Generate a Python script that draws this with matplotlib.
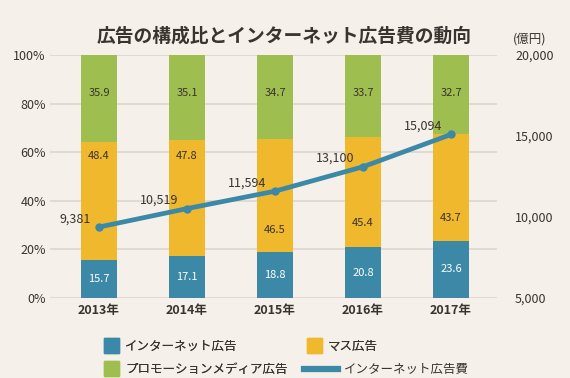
import matplotlib
matplotlib.use("Agg")
import matplotlib.pyplot as plt
import matplotlib.patches as mpatches
from matplotlib.lines import Line2D
from matplotlib.legend_handler import HandlerPatch
import numpy as np

plt.rcParams['font.family'] = ['Noto Sans CJK JP', 'DejaVu Sans']

# data
years = ["2013年", "2014年", "2015年", "2016年", "2017年"]
internet_share = [15.7, 17.1, 18.8, 20.8, 23.6]
mass_share = [48.4, 47.8, 46.5, 45.4, 43.7]
promo_share = [35.9, 35.1, 34.7, 33.7, 32.7]
internet_spend = [9381, 10519, 11594, 13100, 15094]  # 億円

# where the designer put the mass-media labels (percent height)
mass_label_y = [58.5, 58.5, 28.0, 31.0, 33.0]

BG = "#f5f0ea"
BLUE = "#3b88a7"
YELLOW = "#f0b82d"
GREEN = "#9fbe50"
TXT = "#3a3330"
GRID = "#dcd6cf"


def square_patch(legend, orig_handle, xdescent, ydescent, width, height, fontsize):
    s = width
    return mpatches.Rectangle((-xdescent, -ydescent + (height - s) / 2), s, s)


fig = plt.figure(figsize=(5.70, 3.78), dpi=100, facecolor=BG)
ax = fig.add_axes([50 / 570, 1 - 298 / 378, 447 / 570, 243 / 378])
ax.set_facecolor(BG)

x = np.arange(len(years))
w = 0.4
ax.bar(x, internet_share, w, color=BLUE, zorder=2)
ax.bar(x, mass_share, w, bottom=internet_share, color=YELLOW, zorder=2)
bottom2 = np.array(internet_share) + np.array(mass_share)
ax.bar(x, promo_share, w, bottom=bottom2, color=GREEN, zorder=2)

# bar labels
for i in range(len(years)):
    ax.text(x[i], internet_share[i] / 2, f"{internet_share[i]:.1f}", color="white",
            ha="center", va="center", fontsize=8, zorder=3)
    ax.text(x[i], mass_label_y[i], f"{mass_share[i]:.1f}", color=TXT,
            ha="center", va="center", fontsize=8, zorder=3)
    ax.text(x[i], 84.5, f"{promo_share[i]:.1f}", color=TXT,
            ha="center", va="center", fontsize=8, zorder=3)

ax.set_xlim(-0.557, 4.523)
ax.set_ylim(0, 100)
ax.set_yticks([0, 20, 40, 60, 80, 100])
ax.set_yticklabels([f"{v}%" for v in range(0, 101, 20)])
ax.set_xticks(x)
ax.set_xticklabels(years, fontweight="bold")
ax.tick_params(axis="both", length=0, colors=TXT, labelsize=9)
ax.tick_params(axis="x", pad=4)
ax.tick_params(axis="y", pad=3)
ax.grid(axis="y", color=GRID, linewidth=1.2, zorder=0)
for s in ax.spines.values():
    s.set_visible(False)

# right axis: internet ad spend
ax2 = ax.twinx()
ax2.set_ylim(5000, 20000)
ax2.set_yticks([5000, 10000, 15000, 20000])
ax2.set_yticklabels(["5,000", "10,000", "15,000", "20,000"])
ax2.tick_params(axis="y", length=0, colors=TXT, labelsize=9, pad=13)
for s in ax2.spines.values():
    s.set_visible(False)
ax2.plot(x, internet_spend, color=BLUE, linewidth=3.4, marker="o", markersize=5,
         solid_capstyle="round", zorder=4)
for i, v in enumerate(internet_spend):
    ax2.annotate(f"{v:,}", (x[i], v), xytext=(-6, 6), textcoords="offset points",
                 ha="right", va="center", fontsize=9, color=TXT)

fig.text(0.498, 0.905, "広告の構成比とインターネット広告費の動向", ha="center", va="center",
         fontsize=13.5, fontweight="bold", color=TXT)
fig.text(0.93, 0.898, "(億円)", ha="center", va="center", fontsize=9, color=TXT)

# legend
h_net = mpatches.Patch(color=BLUE, label="インターネット広告")
h_promo = mpatches.Patch(color=GREEN, label="プロモーションメディア広告")
h_mass = mpatches.Patch(color=YELLOW, label="マス広告")
h_line = Line2D([], [], color=BLUE, linewidth=4.5, label="インターネット広告費")

leg1 = fig.legend(handles=[h_net, h_promo, h_mass], ncol=2, loc="upper left",
                  bbox_to_anchor=(104 / 570, 1 - 339 / 378), frameon=False,
                  fontsize=9, handlelength=1.2, handleheight=1.2, handletextpad=0.5,
                  columnspacing=1.5, labelspacing=0.75, borderpad=0, borderaxespad=0,
                  labelcolor=TXT, handler_map={mpatches.Patch: HandlerPatch(patch_func=square_patch)})
leg2 = fig.legend(handles=[h_line], loc="upper left",
                  bbox_to_anchor=(304 / 570, 1 - 363 / 378), frameon=False,
                  fontsize=9, handlelength=2.7, handletextpad=0.5, borderpad=0,
                  borderaxespad=0, labelcolor=TXT)
fig.add_artist(leg1)

fig.savefig("out.png", dpi=100, facecolor=BG)
